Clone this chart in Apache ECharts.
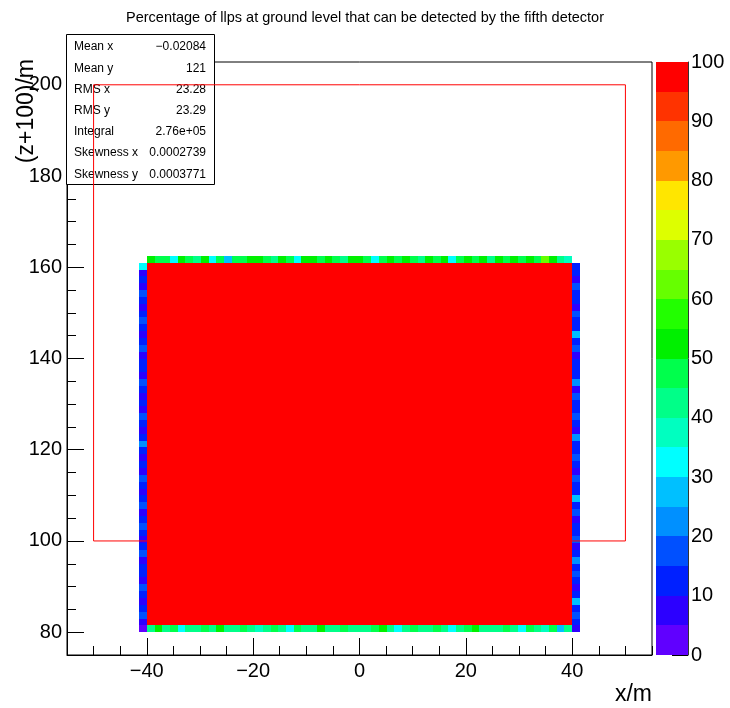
<!DOCTYPE html>
<html>
<head>
<meta charset="utf-8">
<script src="https://cdn.jsdelivr.net/npm/echarts@6/dist/echarts.min.js"></script>
<style>
  html, body { margin: 0; padding: 0; background: #fff; }
  #chart { width: 730px; height: 708px; }
</style>
</head>
<body>
<div id="chart"></div>
<script>
// Detection efficiency (%) per bin; the core of the detector footprint is fully efficient.
var coreValue = 100;
// Edge bins along x (left to right), just below and just above the core
var bottomRow = [42,53,43,46,33,44,42,47,41,52,43,40,46,42,
                 38,44,47,42,33,45,41,43,52,44,40,46,42,44,
                 41,47,53,43,32,42,45,41,44,47,42,33,43,46,
                 52,42,44,40,47,43,32,45,42,38,46,27,42];
var topRow = [52,48,47,33,53,48,44,52,32,47,27,46,47,
              51,53,47,44,52,48,33,50,53,46,52,48,44,51,
              53,47,32,49,52,46,53,48,44,51,47,52,33,48,
              53,46,50,44,52,47,53,48,51,46,62,53,44,38];
// Edge bins along y (bottom to top), left and right of the core
var leftCol = [3,8,17,13,8,12,18,6,11,14,9,16,12,7,13,19,10,8,15,12,
               6,11,17,9,13,8,14,21,10,7,12,16,9,13,8,11,18,6,12,14,
               9,16,10,8,13,19,11,7,12,15,9,13,8,33];
var rightCol = [6,12,17,11,27,14,8,13,18,10,22,12,9,16,11,14,8,19,12,26,
                10,13,16,9,12,18,11,14,23,8,12,16,10,13,17,9,21,12,14,11,
                8,16,13,27,10,12,18,9,14,11,16,8,13,11];

// Binning of the histogram
var xStart = -40, xEnd = 40, nxCore = 55;
var yStart = 80, yBinW = 1.5, nySide = 54;

// Outline of the fiducial region (x/m, (z+100)/m)
var regionX = [-50, -50, 50, 50, -50];
var regionY = [100, 200, 200, 100, 100];

// Tick values
var xMajorTicks = [-40, -20, 0, 20, 40];
var yMajorTicks = [80, 100, 120, 140, 160, 180, 200];

// Colour palette: 20 steps of 5 % from 0 to 100
var palette = ['#6000ff','#2c00ff','#0020ff','#0050ff','#0090ff','#00c0ff','#00ffff','#00ffc0',
               '#00ff88','#00ff4c','#00f000','#22ff00','#66ff00','#99ff00','#ddff00','#ffe600',
               '#ff9900','#ff6a00','#ff3300','#ff0000'];
var paletteStep = 5;

// Statistics box
var statLabels = ['Mean x','Mean y','RMS x','RMS y','Integral','Skewness x','Skewness y'];
var statValues = ['\u22120.02084','121','23.28','23.29','2.76e+05','0.0002739','0.0003771'];

var titleText = 'Percentage of llps at ground level that can be detected by the fifth detector';

function colorOf(v) {
  return palette[Math.min(palette.length - 1, Math.floor(v / paletteStep))];
}

// Build the cells: [x0, x1, y0, y1, value]
var xBinW = (xEnd - xStart) / nxCore;
var cells = [];
function xe(i) { return xStart + i * xBinW; }
function ye(j) { return yStart + j * yBinW; }
for (var j = 0; j < nySide; j++) {
  cells.push([xe(-1), xe(0), ye(j), ye(j + 1), leftCol[j]]);
  cells.push([xe(nxCore), xe(nxCore + 1), ye(j), ye(j + 1), rightCol[j]]);
}
for (var i = 0; i < nxCore; i++) {
  cells.push([xe(i), xe(i + 1), ye(0), ye(1), bottomRow[i]]);
  cells.push([xe(i), xe(i + 1), ye(nySide), ye(nySide + 1), topRow[i]]);
  for (var k = 1; k < nySide; k++) {
    cells.push([xe(i), xe(i + 1), ye(k), ye(k + 1), coreValue]);
  }
}

var bands = palette.map(function (c, idx) { return [0, 1, idx * paletteStep, (idx + 1) * paletteStep, idx]; });

var regionPath = regionX.map(function (x, idx) { return [x, regionY[idx]]; });

var FONT = 'Liberation Sans, Arial, Helvetica, sans-serif';

// Cells are snapped to whole pixels so neighbouring bins meet without seams
function rectItem(params, api, fill) {
  var p0 = api.coord([api.value(0), api.value(2)]);
  var p1 = api.coord([api.value(1), api.value(3)]);
  var x0 = Math.round(p0[0]), x1 = Math.round(p1[0]);
  var yb = Math.round(p0[1]), yt = Math.round(p1[1]);
  return {
    type: 'rect',
    shape: { x: x0, y: yt, width: x1 - x0, height: yb - yt },
    style: { fill: fill }
  };
}

var statsGraphic = [{
  type: 'rect', z: 1,
  shape: { x: 66.5, y: 34.5, width: 148, height: 150 },
  style: { fill: '#fff', stroke: '#000', lineWidth: 1 }
}];
statLabels.forEach(function (lab, idx) {
  var y = 47 + idx * 21.2;
  statsGraphic.push({ type: 'text', z: 1, x: 74, y: y,
    style: { text: lab, font: '12px ' + FONT, fill: '#000', textAlign: 'left', textVerticalAlign: 'middle' } });
  statsGraphic.push({ type: 'text', z: 1, x: 206, y: y,
    style: { text: statValues[idx], font: '12px ' + FONT, fill: '#000', textAlign: 'right', textVerticalAlign: 'middle' } });
});
statsGraphic.push({ type: 'text', z: 1, x: 27, y: 59, rotation: Math.PI / 2,
  style: { text: '(z+100)/m', font: '23px ' + FONT, fill: '#000', textAlign: 'right', textVerticalAlign: 'middle' } });
statsGraphic.push({ type: 'text', z: 1, x: 652, y: 695,
  style: { text: 'x/m', font: '23px ' + FONT, fill: '#000', textAlign: 'right', textVerticalAlign: 'middle' } });

var noZero = { onZero: false };
var chart = echarts.init(document.getElementById('chart'), null, { renderer: 'canvas' });
chart.setOption({
  animation: false,
  backgroundColor: '#fff',
  title: {
    text: titleText, left: 'center', top: 5,
    textStyle: { fontFamily: FONT, fontSize: 14.5, fontWeight: 'normal', color: '#000' }
  },
  graphic: statsGraphic,
  grid: [
    { left: 67, top: 62, width: 585, height: 593, show: true, borderColor: '#000', borderWidth: 1, backgroundColor: 'transparent' },
    { left: 656, top: 62, width: 32, height: 593, show: false }
  ],
  xAxis: [
    { gridIndex: 0, type: 'value', min: -55, max: 55, position: 'bottom',
      axisLine: { show: true, onZero: false, lineStyle: { color: '#000' } },
      axisTick: { show: true, inside: true, length: 17, customValues: xMajorTicks, lineStyle: { color: '#000' } },
      axisLabel: { show: true, customValues: xMajorTicks, margin: 6, fontSize: 20, fontFamily: FONT, color: '#000',
                   formatter: function (v) { return v < 0 ? '\u2212' + Math.abs(v) : String(v); } },
      splitLine: { show: false } },
    { gridIndex: 0, type: 'value', min: -55, max: 55, interval: 5, position: 'bottom',
      axisLine: { show: false, onZero: false },
      axisTick: { show: true, inside: true, length: 9, lineStyle: { color: '#000' } },
      axisLabel: { show: false }, splitLine: { show: false } },
    { gridIndex: 1, type: 'value', min: 0, max: 1, show: false, axisLine: noZero }
  ],
  yAxis: [
    { gridIndex: 0, type: 'value', min: 75, max: 205, position: 'left',
      axisLine: { show: true, onZero: false, lineStyle: { color: '#000' } },
      axisTick: { show: true, inside: true, length: 17, customValues: yMajorTicks, lineStyle: { color: '#000' } },
      axisLabel: { show: true, customValues: yMajorTicks, margin: 5, fontSize: 20, fontFamily: FONT, color: '#000' },
      splitLine: { show: false } },
    { gridIndex: 0, type: 'value', min: 75, max: 205, interval: 5, position: 'left',
      axisLine: { show: false, onZero: false },
      axisTick: { show: true, inside: true, length: 9, lineStyle: { color: '#000' } },
      axisLabel: { show: false }, splitLine: { show: false } },
    { gridIndex: 1, type: 'value', min: 0, max: 100, interval: 10, position: 'right',
      axisLine: { show: true, onZero: false, lineStyle: { color: '#333' } },
      axisTick: { show: true, inside: true, length: 16, lineStyle: { color: '#000' } },
      axisLabel: { show: true, margin: 3, fontSize: 20, fontFamily: FONT, color: '#000' },
      splitLine: { show: false } }
  ],
  series: [
    { type: 'custom', xAxisIndex: 0, yAxisIndex: 0, z: 2, silent: true,
      encode: { x: [0, 1], y: [2, 3] },
      data: cells,
      renderItem: function (params, api) { return rectItem(params, api, colorOf(api.value(4))); } },
    { type: 'custom', xAxisIndex: 2, yAxisIndex: 2, z: 2, silent: true,
      encode: { x: [0, 1], y: [2, 3] },
      data: bands,
      renderItem: function (params, api) { return rectItem(params, api, palette[api.value(4)]); } },
    { type: 'line', xAxisIndex: 0, yAxisIndex: 0, z: 5, silent: true,
      data: regionPath, symbol: 'none',
      lineStyle: { color: '#ff0000', width: 1 } }
  ]
});
</script>
</body>
</html>
